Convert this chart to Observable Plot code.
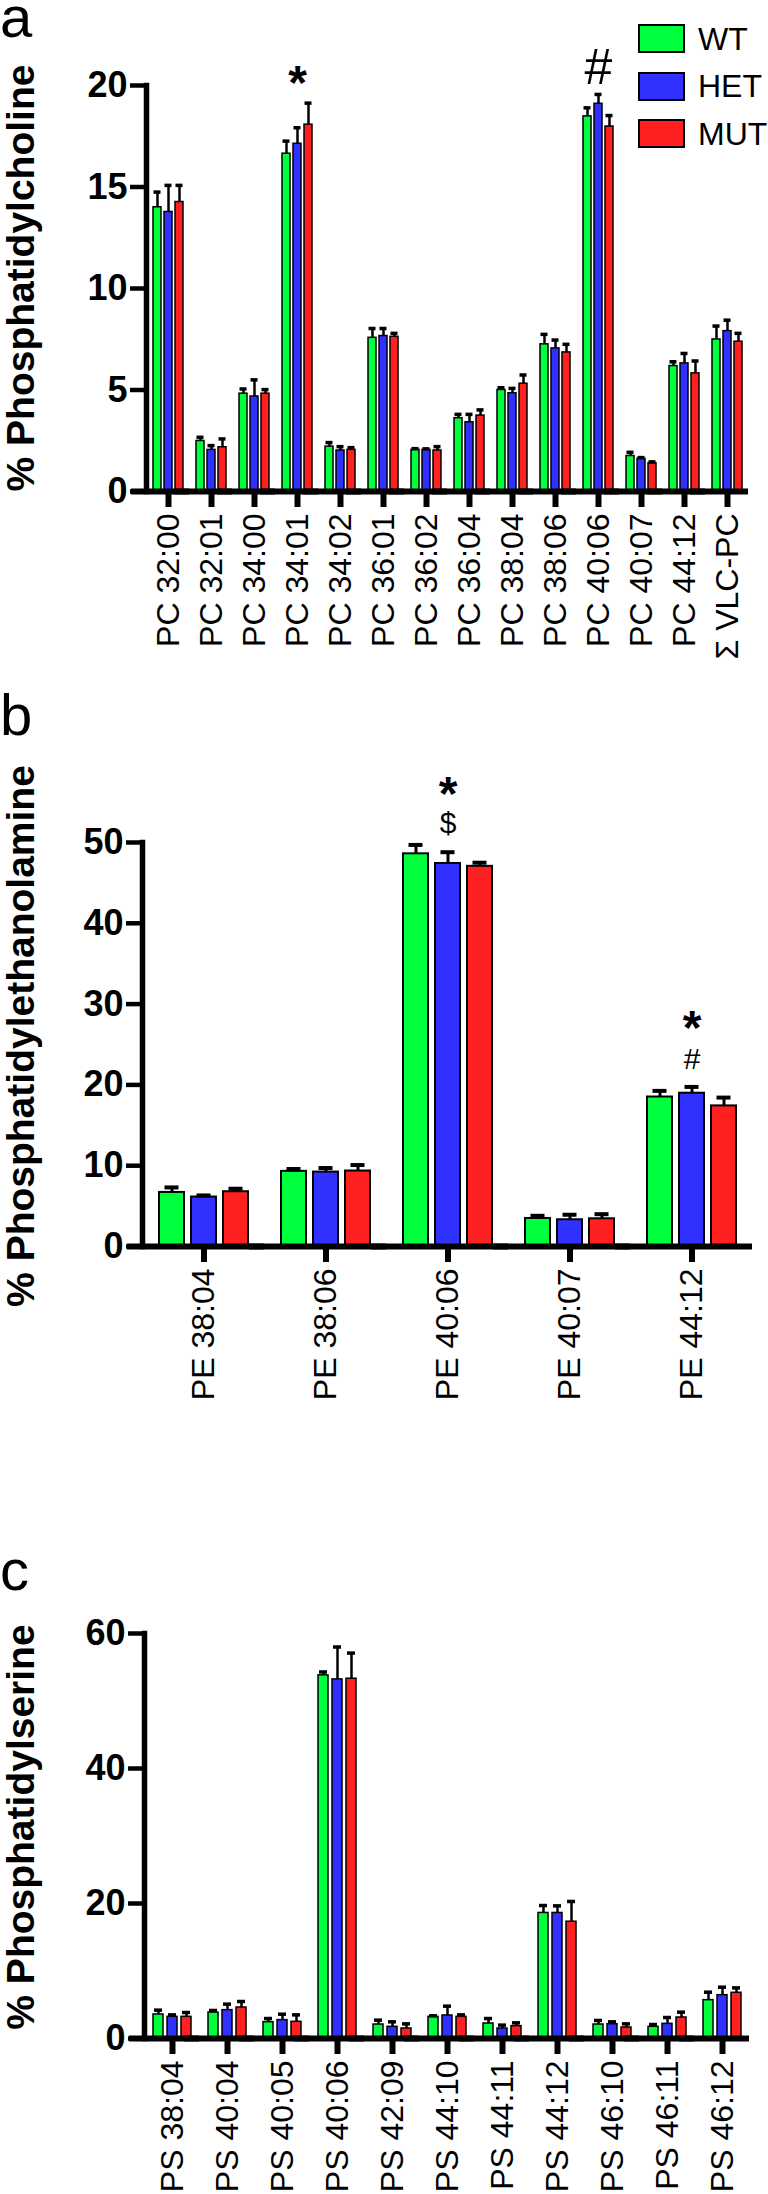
<!DOCTYPE html>
<html><head><meta charset="utf-8">
<script src="https://cdn.jsdelivr.net/npm/d3@7"></script>
<script src="https://cdn.jsdelivr.net/npm/@observablehq/plot@0.6"></script>
<style>
html,body{margin:0;padding:0;background:#fff;}
#fig{position:relative;width:768px;height:2194px;font-family:"Liberation Sans",Arial,sans-serif;color:#000;overflow:hidden;}
#fig svg{display:block;}
#fig g[aria-label="y-axis tick"]{stroke-width:4.5px;}
.letter{position:absolute;left:0;font-size:58px;line-height:0.55;}
.ytitle{position:absolute;font-weight:bold;font-size:39px;white-space:nowrap;line-height:1;transform:translate(-50%,-50%) rotate(-90deg);}
.legend{position:absolute;left:638px;top:15px;}
.legend .row{display:flex;align-items:center;height:47.5px;margin:0;}
.legend .sw{width:43px;height:25px;border:2px solid #000;margin-right:13px;}
.legend .lab{font-size:32px;line-height:1;}
</style></head><body><div id="fig"></div>
<script>
const groups = ["WT", "HET", "MUT"];
const groupColors = ["#00ff3c", "#3131ff", "#ff2020"];

// Panel a: phosphatidylcholine
const pcCats = ["PC 32:00","PC 32:01","PC 34:00","PC 34:01","PC 34:02","PC 36:01","PC 36:02","PC 36:04","PC 38:04","PC 38:06","PC 40:06","PC 40:07","PC 44:12","Σ VLC-PC"];
const pcWT     = [14.0, 2.49, 4.82, 16.64, 2.21, 7.57, 2.05, 3.61, 5.0, 7.25, 18.48, 1.75, 6.18, 7.49];
const pcWTErr  = [0.75, 0.18, 0.23, 0.62, 0.2, 0.46, 0.06, 0.19, 0.11, 0.49, 0.42, 0.18, 0.21, 0.66];
const pcHET    = [13.77, 2.05, 4.68, 17.13, 2.02, 7.66, 2.05, 3.41, 4.84, 7.05, 19.10, 1.61, 6.31, 7.90];
const pcHETErr = [1.31, 0.21, 0.82, 0.79, 0.19, 0.37, 0.05, 0.39, 0.24, 0.41, 0.46, 0.06, 0.49, 0.54];
const pcMUT    = [14.26, 2.18, 4.82, 18.07, 2.05, 7.62, 2.02, 3.74, 5.31, 6.85, 17.98, 1.39, 5.82, 7.38];
const pcMUTErr = [0.82, 0.41, 0.2, 1.06, 0.11, 0.17, 0.19, 0.28, 0.43, 0.4, 0.54, 0.07, 0.61, 0.41];
const pcTicks = [0, 5, 10, 15, 20];

// Panel b: phosphatidylethanolamine
const peCats = ["PE 38:04","PE 38:06","PE 40:06","PE 40:07","PE 44:12"];
const peWT     = [6.69, 9.3, 48.6, 3.47, 18.5];
const peWTErr  = [0.62, 0.29, 1.1, 0.33, 0.76];
const peHET    = [6.12, 9.21, 47.4, 3.31, 18.97];
const peHETErr = [0.2, 0.5, 1.4, 0.62, 0.78];
const peMUT    = [6.78, 9.34, 47.05, 3.43, 17.4];
const peMUTErr = [0.37, 0.74, 0.45, 0.57, 1.03];
const peTicks = [0, 10, 20, 30, 40, 50];

// Panel c: phosphatidylserine
const psCats = ["PS 38:04","PS 40:04","PS 40:05","PS 40:06","PS 42:09","PS 44:10","PS 44:11","PS 44:12","PS 46:10","PS 46:11","PS 46:12"];
const psWT     = [3.56, 3.85, 2.42, 53.8, 2.07, 3.21, 2.22, 18.6, 2.07, 1.73, 5.68];
const psWTErr  = [0.64, 0.3, 0.54, 0.5, 0.65, 0.15, 0.74, 1.1, 0.6, 0.34, 1.18];
const psHET    = [3.21, 4.2, 2.72, 53.2, 1.73, 3.41, 1.48, 18.6, 2.12, 2.17, 6.42];
const psHETErr = [0.29, 0.89, 0.88, 4.8, 0.74, 1.38, 0.5, 1.05, 0.35, 0.94, 1.18];
const psMUT    = [3.21, 4.59, 2.47, 53.3, 1.48, 3.21, 1.83, 17.3, 1.63, 3.11, 6.77];
const psMUTErr = [0.64, 0.89, 1.03, 3.8, 0.69, 0.29, 0.49, 3.0, 0.54, 0.79, 0.73];
const psTicks = [0, 20, 40, 60];

// significance marks: [category, symbol]
const pcNotes = [["PC 34:01", "*"], ["PC 40:06", "#"]];
const peNotes = [["PE 40:06", "*"], ["PE 40:06", "$"], ["PE 44:12", "*"], ["PE 44:12", "#"]];

const noteStyle = {
  a: {"*": {fontSize: 48, fontWeight: "bold", dy: -44}, "#": {fontSize: 50, fontWeight: "normal", dy: -26}},
  b: {"*": {fontSize: 48, fontWeight: "bold", dy: -58}, "$": {fontSize: 30, fontWeight: "normal", dy: -29}, "#": {fontSize: 30, fontWeight: "normal", dy: -28}}
};

function rowsOf(cats, vals, errs) {
  return cats.flatMap((c, i) => groups.map((g, j) => ({cat: c, group: g, value: vals[j][i], err: errs[j][i]})));
}

function panel(o) {
  const rows = rowsOf(o.cats, o.vals, o.errs);
  const centers = o.cats.map(c => ({cat: c, group: "HET", base: 0}));
  const noteMarks = (o.notes || []).map(([cat, sym]) => {
    const r = rows.find(d => d.cat === cat && d.group === "HET");
    const st = noteStyle[o.key][sym];
    return Plot.text([{cat, group: "HET", y: r.value + r.err, sym}], {
      fx: "cat", x: "group", y: "y", text: "sym",
      fontSize: st.fontSize, fontWeight: st.fontWeight, dy: st.dy, fill: "black"
    });
  });
  return Plot.plot({
    width: 768, height: o.height,
    marginTop: o.mt, marginBottom: o.mb, marginLeft: 141, marginRight: 16,
    style: {fontFamily: "Liberation Sans, Arial, sans-serif", background: "white", color: "black", overflow: "visible"},
    fx: {domain: o.cats, padding: 0, axis: null},
    x: {domain: groups, axis: null, paddingInner: o.pi, paddingOuter: o.po},
    y: {domain: [0, o.yMax]},
    color: {domain: groups, range: groupColors},
    marks: [
      Plot.barY(rows, {fx: "cat", x: "group", y: "value", fill: "group", stroke: "black", strokeWidth: o.barStroke}),
      Plot.ruleX(rows, {fx: "cat", x: "group", y1: "value", y2: d => d.value + d.err, strokeWidth: o.errW, stroke: "black"}),
      Plot.tickY(rows, {fx: "cat", x: "group", y: d => d.value + d.err, strokeWidth: o.capW, insetLeft: o.capInset, insetRight: o.capInset, stroke: "black"}),
      // category ticks below the x axis
      Plot.ruleX(centers, {fx: "cat", x: "group", y1: "base", y2: "base", insetBottom: -16, strokeWidth: 6, stroke: "black"}),
      // category labels
      Plot.text(centers, {fx: "cat", x: "group", y: "base", text: "cat", rotate: -90, textAnchor: "end", lineAnchor: "middle", dy: 22, fontSize: 32, fill: "black"}),
      Plot.frame({anchor: "left", facetAnchor: "left", stroke: "black", strokeWidth: 5.5}),
      Plot.ruleY([0], {strokeWidth: 6, insetLeft: -15, stroke: "black"}),
      Plot.axisY({ticks: o.ticks, tickSize: 16, tickPadding: 3, strokeWidth: 4.5, fontSize: 36, fontWeight: "bold", label: null}),
      ...noteMarks
    ]
  });
}

const fig = document.getElementById("fig");
const specs = [
  {key: "a", cats: pcCats, vals: [pcWT, pcHET, pcMUT], errs: [pcWTErr, pcHETErr, pcMUTErr], ticks: pcTicks, yMax: 20,
   height: 680, mt: 85, mb: 189, pi: 0.3, po: 0.45, barStroke: 1.5, errW: 2.5, capW: 3.5, capInset: 0.5, notes: pcNotes},
  {key: "b", cats: peCats, vals: [peWT, peHET, peMUT], errs: [peWTErr, peHETErr, peMUTErr], ticks: peTicks, yMax: 50,
   height: 740, mt: 162, mb: 174, pi: 0.22, po: 0.5, barStroke: 2, errW: 3, capW: 4, capInset: 5.5, notes: peNotes},
  {key: "c", cats: psCats, vals: [psWT, psHET, psMUT], errs: [psWTErr, psHETErr, psMUTErr], ticks: psTicks, yMax: 60,
   height: 774, mt: 213, mb: 156, pi: 0.3, po: 0.5, barStroke: 1.5, errW: 2.5, capW: 3.5, capInset: 1, notes: []}
];
specs.forEach(s => fig.appendChild(panel(s)));

// panel letters
[["a", 1], ["b", 699], ["c", 1554]].forEach(([t, top]) => {
  const d = document.createElement("div"); d.className = "letter"; d.textContent = t; d.style.top = top + "px"; fig.appendChild(d);
});
// y-axis titles
[["% Phosphatidylcholine", 278], ["% Phosphatidylethanolamine", 1036], ["% Phosphatidylserine", 1827]].forEach(([t, cy]) => {
  const d = document.createElement("div"); d.className = "ytitle"; d.textContent = t;
  d.style.left = "20px"; d.style.top = cy + "px"; fig.appendChild(d);
});
// legend
const lg = document.createElement("div"); lg.className = "legend";
groups.forEach((g, i) => {
  const r = document.createElement("div"); r.className = "row";
  const sw = document.createElement("div"); sw.className = "sw"; sw.style.background = groupColors[i];
  const lab = document.createElement("div"); lab.className = "lab"; lab.textContent = g;
  r.appendChild(sw); r.appendChild(lab); lg.appendChild(r);
});
fig.appendChild(lg);
</script></body></html>
